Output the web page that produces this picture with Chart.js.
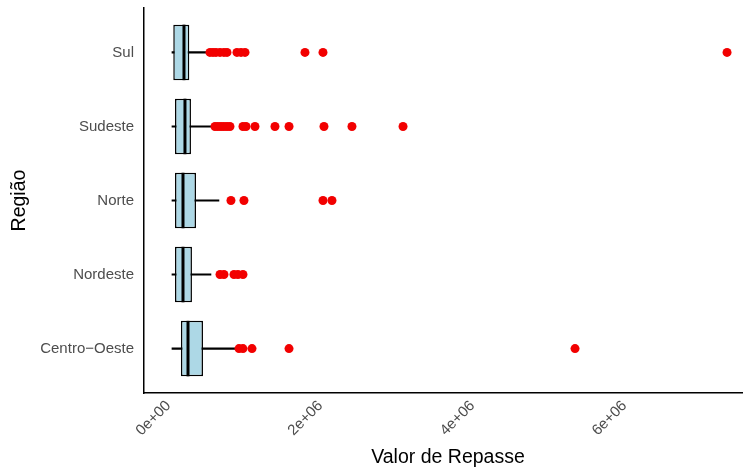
<!DOCTYPE html>
<html lang="pt">
<head>
    <meta charset="UTF-8">
    <title>Valor de Repasse por Região</title>
    <script src="https://cdn.jsdelivr.net/npm/chart.js"></script>
    <style>
        html, body { margin: 0; padding: 0; background: #fff; }
        #wrap { width: 743px; height: 467px; position: relative; }
    </style>
</head>
<body>
    <div id="wrap"><canvas id="boxChart"></canvas></div>

    <script>
        // regions, top to bottom
        const regioes = ['Sul', 'Sudeste', 'Norte', 'Nordeste', 'Centro−Oeste'];

        // box statistics per region (Valor de Repasse)
        const whiskerLow  = [46000, 46000, 46000, 46000, 46000];
        const quartil1    = [63000, 86000, 86000, 86000, 164000];
        const mediana     = [204000, 217000, 191000, 191000, 257000];
        const quartil3    = [274000, 296000, 362000, 309000, 454000];
        const whiskerHigh = [507000, 572000, 664000, 559000, 888000];

        // outliers per region
        const outSul      = [546000, 586000, 625000, 678000, 730000, 770000, 901000, 954000, 1007000, 1796000, 2033000, 7349000];
        const outSudeste  = [612000, 651000, 691000, 730000, 770000, 809000, 980000, 1020000, 1138000, 1401000, 1586000, 2046000, 2414000, 3086000];
        const outNorte    = [822000, 993000, 2033000, 2151000];
        const outNordeste = [678000, 730000, 862000, 914000, 980000];
        const outCentro   = [928000, 980000, 1099000, 1586000, 5349000];
        const outliers = [outSul, outSudeste, outNorte, outNordeste, outCentro];

        const xTicks = [0, 2000000, 4000000, 6000000];
        const xTickLabels = ['0e+00', '2e+06', '4e+06', '6e+06'];

        const pos = regioes.map((r, i) => i + 1);
        const outlierPoints = [];
        outliers.forEach((list, i) => list.forEach(v => outlierPoints.push({ x: v, y: pos[i] })));

        const fontFamily = 'Liberation Sans, Arial, sans-serif';

        // median lines + x axis title (centred on the full ggplot panel, which runs a bit past the canvas)
        const boxExtras = {
            id: 'boxExtras',
            afterDatasetsDraw(chart) {
                const ctx = chart.ctx;
                const xs = chart.scales.x;
                const meta = chart.getDatasetMeta(1);
                ctx.save();
                ctx.strokeStyle = '#000';
                ctx.lineWidth = 3;
                mediana.forEach((m, i) => {
                    const bar = meta.data[i];
                    const px = xs.getPixelForValue(m);
                    ctx.beginPath();
                    ctx.moveTo(px, bar.y - bar.height / 2);
                    ctx.lineTo(px, bar.y + bar.height / 2);
                    ctx.stroke();
                });
                ctx.restore();
            },
            afterDraw(chart) {
                const ctx = chart.ctx;
                const area = chart.chartArea;
                ctx.save();
                ctx.fillStyle = '#000';
                ctx.font = '19.5px ' + fontFamily;
                ctx.textAlign = 'center';
                ctx.textBaseline = 'alphabetic';
                ctx.fillText('Valor de Repasse', area.left + 304, 463);
                ctx.restore();
            }
        };

        const tickFont = { family: fontFamily, size: 15 };
        const titleFont = { family: fontFamily, size: 19.5 };

        new Chart(document.getElementById('boxChart'), {
            type: 'bar',
            data: {
                datasets: [{
                    label: 'whisker',
                    indexAxis: 'y',
                    data: pos.map((p, i) => ({ y: p, x: [whiskerLow[i], whiskerHigh[i]] })),
                    backgroundColor: '#000',
                    borderWidth: 0,
                    barThickness: 1.5,
                    grouped: false,
                    order: 3
                }, {
                    label: 'box',
                    indexAxis: 'y',
                    data: pos.map((p, i) => ({ y: p, x: [quartil1[i], quartil3[i]] })),
                    backgroundColor: '#ADD8E6',
                    borderColor: '#000',
                    borderWidth: 1.5,
                    borderSkipped: false,
                    categoryPercentage: 0.75,
                    barPercentage: 1,
                    grouped: false,
                    order: 2
                }, {
                    type: 'scatter',
                    label: 'outliers',
                    data: outlierPoints,
                    backgroundColor: '#F20000',
                    borderWidth: 0,
                    pointRadius: 4.5,
                    order: 1
                }]
            },
            options: {
                indexAxis: 'y',
                responsive: true,
                maintainAspectRatio: false,
                animation: false,
                layout: { autoPadding: false, padding: { top: 8, right: 0, bottom: 0, left: 0 } },
                plugins: { legend: { display: false }, tooltip: { enabled: false } },
                scales: {
                    x: {
                        type: 'linear',
                        min: -322000,
                        max: 7559000,
                        afterBuildTicks: s => { s.ticks = xTicks.map(v => ({ value: v })); },
                        afterFit: s => { s.height = 74; s.paddingLeft = 0; s.paddingRight = 0; },
                        grid: { display: false, drawTicks: false },
                        border: { display: true, color: '#000', width: 1.5 },
                        ticks: {
                            color: '#4d4d4d',
                            font: tickFont,
                            minRotation: 45,
                            maxRotation: 45,
                            padding: 4,
                            autoSkip: false,
                            callback: (v, i) => xTickLabels[i]
                        },
                        title: { display: false }
                    },
                    y: {
                        type: 'linear',
                        reverse: true,
                        offset: false,
                        min: 0.4,
                        max: 5.6,
                        afterBuildTicks: s => { s.ticks = pos.map(v => ({ value: v })); },
                        afterFit: s => { s.width = 144; s.paddingTop = 0; s.paddingBottom = 0; },
                        grid: { display: false, drawTicks: false },
                        border: { display: true, color: '#000', width: 1.5 },
                        ticks: {
                            color: '#4d4d4d',
                            font: tickFont,
                            padding: 10,
                            autoSkip: false,
                            callback: (v, i) => regioes[i]
                        },
                        title: { display: true, text: 'Região', color: '#000', font: titleFont, padding: { top: 8, bottom: 0 } }
                    }
                }
            },
            plugins: [boxExtras]
        });
    </script>
</body>
</html>
